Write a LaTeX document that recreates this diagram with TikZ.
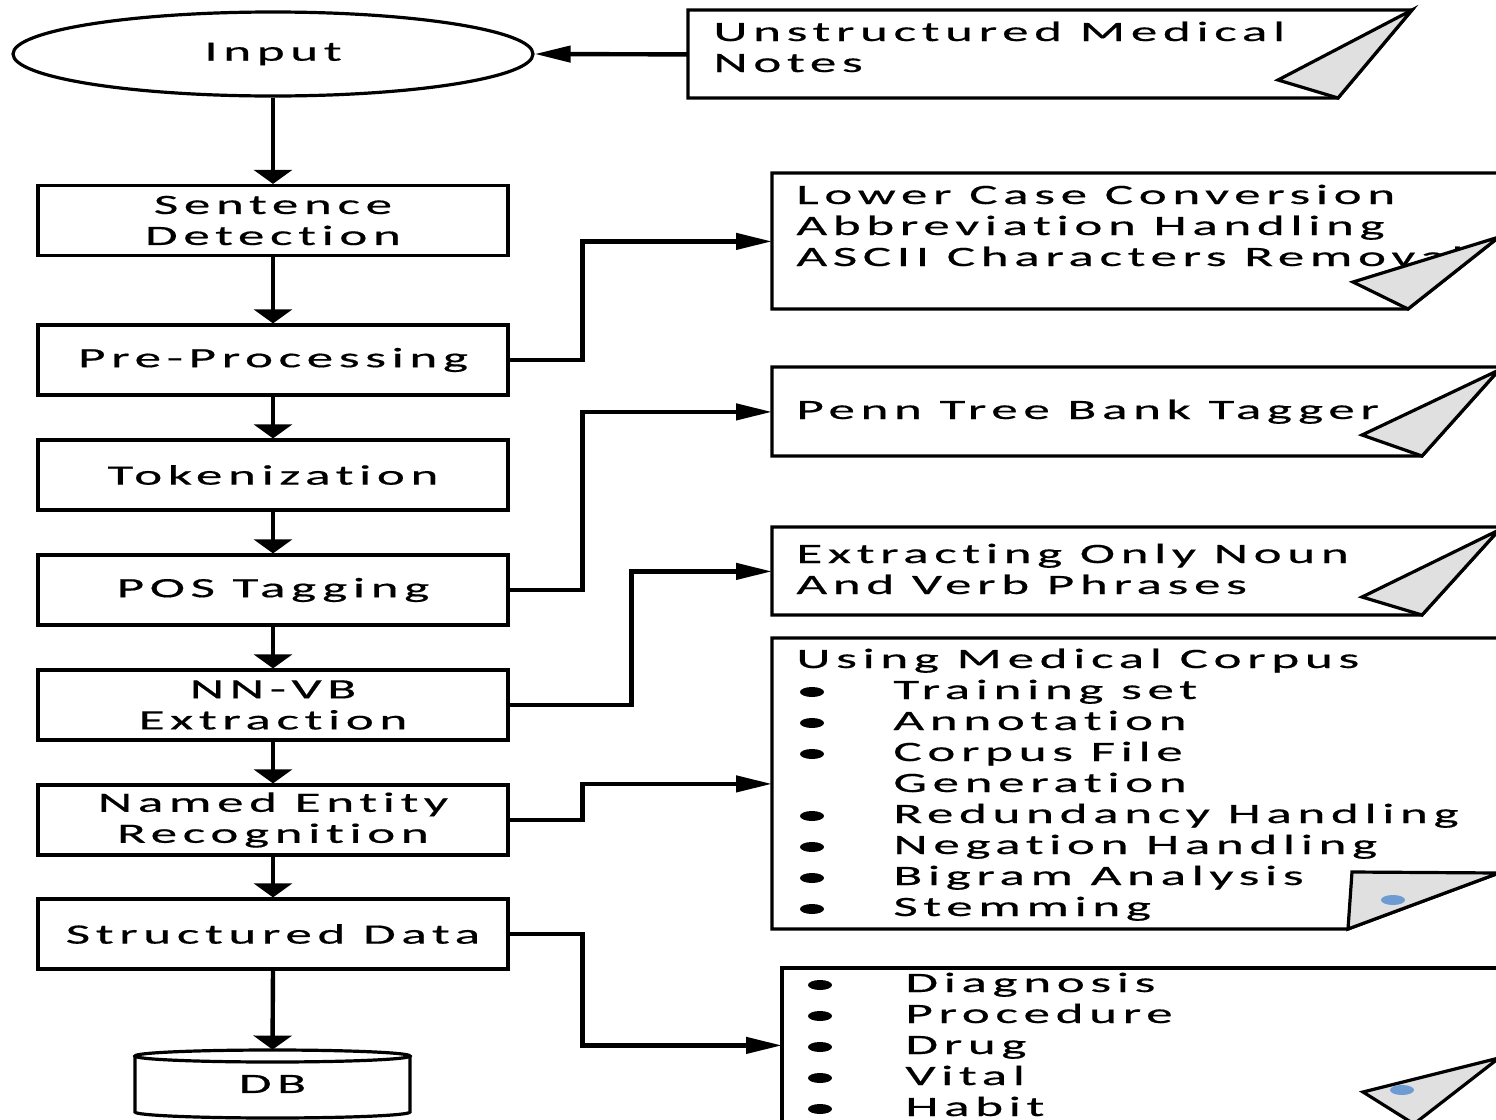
\documentclass[tikz,border=0pt]{standalone}
\usepackage{fontspec}
\setmainfont[FakeStretch=1.9,LetterSpace=20,Ligatures=NoCommon,FakeBold=0.5]{Carlito}
\usetikzlibrary{arrows.meta,shapes.geometric}
\definecolor{foldgray}{RGB}{224,224,224}
\definecolor{dotblue}{RGB}{110,155,210}
\tikzset{
  every node/.style={font=\fontsize{14}{15.5}\selectfont, inner sep=0pt},
  procbox/.style={draw, line width=1.6pt, minimum width=235pt, minimum height=35pt, align=center},
  outline/.style={draw, line width=1.6pt, line join=miter},
  foldpart/.style={draw, fill=foldgray, line width=1.6pt, line join=miter},
  varr/.style={line width=2.2pt, -{Triangle[length=7pt,width=19pt]}},
  harr/.style={line width=2.2pt, -{Triangle[length=18pt,width=8pt]}},
  notetext/.style={anchor=base west, align=left},
  bulletdot/.style={fill=black},
  bluedot/.style={fill=dotblue}
}
\begin{document}
\begin{tikzpicture}[x=0.5pt,y=-0.5pt]
\useasboundingbox (0,0) rectangle (1496,1120);
\clip (0,0) rectangle (1496,1120);
\fill[white] (0,0) rectangle (1496,1120);

% left flow
\node[draw, ellipse, line width=1.6pt, minimum width=260pt, minimum height=42pt] (input) at (273,54) {Input};
\node[procbox] (sent) at (273,220.5) {Sentence\\Detection};
\node[procbox] (pre) at (273,360) {Pre-Processing};
\node[procbox] (tok) at (273,475) {Tokenization};
\node[procbox] (pos) at (273,590) {POS Tagging};
\node[procbox] (nnvb) at (273,705) {NN-VB\\Extraction};
\node[procbox] (ner) at (273,820) {Named Entity\\Recognition};
\node[procbox] (sd) at (273,934) {Structured Data};
\node[minimum width=137.5pt, minimum height=34pt] (db) at (272.5,1084) {};
\draw[line width=1.6pt] (135,1056) -- (135,1112) arc[start angle=180, end angle=0, x radius=137.5, y radius=6] -- (410,1056);
\draw[line width=1.6pt, fill=white] (272.5,1056) ellipse[x radius=137.5, y radius=6];
\node at (db.center) {DB};

% note areas (named, invisible)
\node[anchor=north west, minimum width=362pt, minimum height=44pt] (n1) at (688,10) {};
\node[anchor=north west, minimum width=362pt, minimum height=68pt] (n2) at (772,173) {};
\node[anchor=north west, minimum width=362pt, minimum height=44.5pt] (n3) at (772,367) {};
\node[anchor=north west, minimum width=362pt, minimum height=44pt] (n4) at (772,527) {};
\node[anchor=north west, minimum width=362pt, minimum height=145.5pt] (n5) at (772,638) {};
\node[anchor=north west, minimum width=357pt, minimum height=77pt] (n6) at (782,968) {};

% note outlines
\draw[outline] (688,10) -- (1412,10) -- (1338,98) -- (688,98) -- cycle;
\draw[outline] (772,173) -- (1499,173) -- (1499,237) -- (1408,309) -- (772,309) -- cycle;
\draw[outline] (772,367) -- (1499,367) -- (1499,370) -- (1422,456) -- (772,456) -- cycle;
\draw[outline] (772,527) -- (1499,527) -- (1499,530) -- (1422,615) -- (772,615) -- cycle;
\draw[outline] (772,638) -- (1499,638) -- (1499,873) -- (1348,929) -- (772,929) -- cycle;
\draw[outline] (782,1130) -- (782,968) -- (1499,968) -- (1499,1058);

% note texts (anchored at the baseline of their last line)
\node[notetext] (t1) at (713,72) {Unstructured Medical\\Notes};
\node[notetext] (t2) at (796,266) {Lower Case Conversion\\Abbreviation Handling\\ASCII Characters Removal};
\node[notetext] (t3) at (796,419) {Penn Tree Bank Tagger};
\node[notetext] (t4) at (796,594) {Extracting Only Noun\\And Verb Phrases};
\node[notetext] (t5) at (796,668) {Using Medical Corpus};
\node[notetext] (t5b) at (893,916) {Training set\\Annotation\\Corpus File\\Generation\\Redundancy Handling\\Negation Handling\\Bigram Analysis\\Stemming};
\node[notetext] (t6) at (905,1116) {Diagnosis\\Procedure\\Drug\\Vital\\Habit};

% bullets
\foreach \y in {692,723,754,816,847,878,909} \fill[bulletdot] (812,\y) ellipse[x radius=12, y radius=5];
\foreach \y in {985,1016,1047,1078,1109} \fill[bulletdot] (820,\y) ellipse[x radius=12, y radius=5];

% folds
\draw[foldpart] (1412,10) -- (1278,80) -- (1338,98) -- cycle;
\draw[foldpart] (1499,237) -- (1353,282) -- (1408,309) -- cycle;
\draw[foldpart] (1499,370) -- (1362,435) -- (1422,456) -- cycle;
\draw[foldpart] (1499,530) -- (1362,597) -- (1422,615) -- cycle;
\draw[foldpart] (1352,872) -- (1499,873) -- (1348,929) -- cycle;
\draw[foldpart] (1499,1058) -- (1363,1092) -- (1414,1124) -- cycle;
\fill[bluedot] (1393,900) ellipse[x radius=12, y radius=5];
\fill[bluedot] (1402,1090) ellipse[x radius=12, y radius=5];

% connectors
\draw[harr] (n1.west) -- (input.east);
\draw[varr] (input.south) -- (sent.north);
\draw[varr] (sent.south) -- (pre.north);
\draw[varr] (pre.south) -- (tok.north);
\draw[varr] (tok.south) -- (pos.north);
\draw[varr] (pos.south) -- (nnvb.north);
\draw[varr] (nnvb.south) -- (ner.north);
\draw[varr] (ner.south) -- (sd.north);
\draw[varr] (sd.south) -- (db.north);
\draw[harr] (pre.east) -- ++(73,0) |- (n2.west);
\draw[harr] (pos.east) -- ++(73,0) |- (n3.west);
\draw[harr] (nnvb.east) -- ++(122,0) |- (n4.west);
\draw[harr] (ner.east) -- ++(73,0) |- (n5.west);
\draw[harr] (sd.east) -- ++(73,0) |- (n6.west);
\end{tikzpicture}
\end{document}
